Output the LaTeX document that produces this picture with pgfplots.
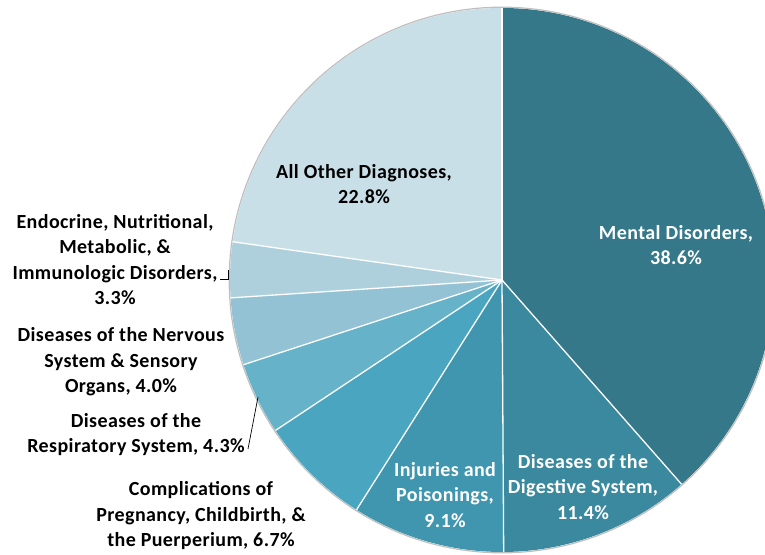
\documentclass[border=0pt]{standalone}
\usepackage{pgfplots}
\pgfplotsset{compat=1.18}
\usepackage{pgfplotstable}
\usepackage{fontspec}
\setmainfont{Carlito}[LetterSpace=2]
\definecolor{c0}{HTML}{34788A}
\definecolor{c1}{HTML}{3B899F}
\definecolor{c2}{HTML}{3F96AE}
\definecolor{c3}{HTML}{49A5C0}
\definecolor{c4}{HTML}{66B2C9}
\definecolor{c5}{HTML}{92C2D3}
\definecolor{c6}{HTML}{AECFDC}
\definecolor{c7}{HTML}{C8DFE7}
% slices clockwise from 12 o'clock
\pgfplotstableread{
idx value
0 38.6
1 11.4
2 9.1
3 6.7
4 4.3
5 4.0
6 3.3
7 22.8
}\piedata
\begin{document}
\begin{tikzpicture}
\begin{axis}[scale only axis, width=765pt, height=554pt,
  xmin=0, xmax=765, ymin=0, ymax=554, hide axis, clip=true]
\pgfplotsextra{
  \pgfplotstablegetrowsof{\piedata}
  \pgfmathtruncatemacro\N{\pgfplotsretval-1}
  \gdef\total{0}
  \foreach \i in {0,...,\N}{
    \pgfplotstablegetelem{\i}{value}\of\piedata
    \pgfmathsetmacro\t{\total+\pgfplotsretval}
    \xdef\total{\t}
  }
  \gdef\cum{0}
  \foreach \i in {0,...,\N}{
    \pgfplotstablegetelem{\i}{value}\of\piedata
    \pgfmathsetmacro\aone{90-360*(\cum/\total)}
    \pgfmathsetmacro\newcum{\cum+\pgfplotsretval}
    \pgfmathsetmacro\atwo{90-360*(\newcum/\total)}
    \xdef\cum{\newcum}
    \fill[c\i] (axis cs:502,274) -- ++(\aone:272pt) arc[start angle=\aone, end angle=\atwo, radius=272pt] -- cycle;
  }
  \draw[black!25, line width=1.2pt] (axis cs:502,274) circle[radius=272.8pt];
  \gdef\cum{0}
  \foreach \i in {0,...,\N}{
    \pgfplotstablegetelem{\i}{value}\of\piedata
    \pgfmathsetmacro\aone{90-360*(\cum/\total)}
    \pgfmathsetmacro\newcum{\cum+\pgfplotsretval}
    \xdef\cum{\newcum}
    \draw[white, line width=1.3pt] (axis cs:502,274) -- ++(\aone:272pt);
  }
}
\tikzset{lab/.style={align=center, font=\fontsize{20}{25.5}\selectfont\bfseries, inner sep=0pt}}
\node[lab, text=white] at (axis cs:676,309) {Mental Disorders,\\38.6\%};
\node[lab, text=white] at (axis cs:583,67) {Diseases of the\\Digestive System,\\11.4\%};
\node[lab, text=white] at (axis cs:445,59) {Injuries and\\Poisonings,\\9.1\%};
\node[lab] at (axis cs:364,370) {All Other Diagnoses,\\22.8\%};
\node[lab] at (axis cs:115,294.5) {Endocrine, Nutritional,\\Metabolic, \&\\Immunologic Disorders,\\3.3\%};
\node[lab] at (axis cs:121,192) {Diseases of the Nervous\\System \& Sensory\\Organs, 4.0\%};
\node[lab] at (axis cs:136,119.5) {Diseases of the\\Respiratory System, 4.3\%};
\node[lab] at (axis cs:201,38) {Complications of\\Pregnancy, Childbirth, \&\\the Puerperium, 6.7\%};
\draw[black, line width=0.7pt] (axis cs:220,275) -- (axis cs:228,275) -- (axis cs:228,284);
\draw[black, line width=0.7pt] (axis cs:248,105) -- (axis cs:258,157);
\end{axis}
\pgfresetboundingbox
\useasboundingbox (current axis.south west) rectangle (current axis.north east);
\end{tikzpicture}
\end{document}
